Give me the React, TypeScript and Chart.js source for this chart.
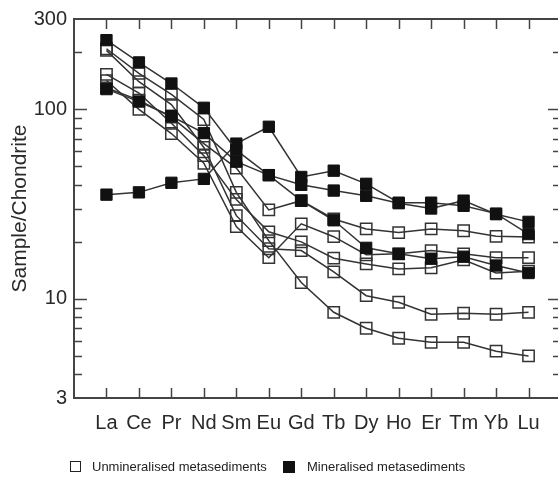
import React, { useEffect, useRef } from "react";
import { Chart, registerables } from "chart.js";

Chart.register(...registerables);

const elements = ["La", "Ce", "Pr", "Nd", "Sm", "Eu", "Gd", "Tb", "Dy", "Ho", "Er", "Tm", "Yb", "Lu"];

// Mineralised metasediments (filled squares)
const mineralisedA = [232, 177, 137, 102, 61, 45, 40, 37.3, 35, 32, 30, 33, 28, 25.5];
const mineralisedB = [128, 110, 92, 75, 53, 45, 33, 26, 18.6, 17.3, 16.3, 16.7, 15, 13.7];
const mineralisedC = [35.5, 36.5, 41, 43, 66, 81, 44, 47.5, 40.5, 32.2, 32.2, 31, 28.2, 22];

// Unmineralised metasediments (open squares)
const unmineralised1 = [130, 112, 91, 66, 49, 29.5, 33, 26.4, 23.4, 22.4, 23.4, 22.9, 21.4, 21.2];
const unmineralised2 = [142, 100, 74.6, 52, 24.1, 16.5, 24.9, 21.3, 17.1, 17.3, 18, 17.3, 16.5, 16.5];
const unmineralised3 = [153, 122, 84.5, 57, 33.5, 22.6, 20, 16.4, 15.3, 14.4, 14.6, 16.1, 13.7, 14];
const unmineralised4 = [205, 140, 106, 63, 27.5, 18.4, 18, 13.9, 10.4, 9.6, 8.3, 8.4, 8.3, 8.5];
const unmineralised5 = [209, 155, 120, 88.5, 36.5, 20.3, 12.2, 8.5, 7.0, 6.2, 5.9, 5.9, 5.3, 5.0];

const yTickLabels = [3, 10, 100, 300];
const yMajorTicks = [10, 100];
const yMinorTicks = [4, 5, 6, 7, 8, 9, 20, 30, 40, 50, 60, 70, 80, 90, 200];

const yTitle = "Sample/Chondrite";
const legendOpen = "Unmineralised metasediments";
const legendFilled = "Mineralised metasediments";

const AXIS = "#444";
const LINE = "#333";
const FONT = "'Liberation Sans', Arial, Helvetica, sans-serif";

const mineralisedSeries = [mineralisedA, mineralisedB, mineralisedC];
const unmineralisedSeries = [unmineralised1, unmineralised2, unmineralised3, unmineralised4, unmineralised5];

const toPoints = (vals: number[]) => vals.map((v, i) => ({ x: i + 1, y: v }));

const framePlugin = {
  id: "frame",
  beforeDatasetsDraw(chart: any) {
    const { ctx, chartArea, scales } = chart;
    const { left, right, top, bottom } = chartArea;
    const x = scales.x;
    const y = scales.y;
    ctx.save();
    ctx.strokeStyle = AXIS;
    ctx.lineWidth = 2;
    ctx.strokeRect(left, top, right - left, bottom - top);
    ctx.lineWidth = 1.5;
    ctx.beginPath();
    elements.forEach((_, i) => {
      const px = Math.round(x.getPixelForValue(i + 1)) + 0.5;
      ctx.moveTo(px, bottom);
      ctx.lineTo(px, bottom - 10);
      ctx.moveTo(px, top);
      ctx.lineTo(px, top + 10);
    });
    yMajorTicks.forEach((v) => {
      const py = Math.round(y.getPixelForValue(v)) + 0.5;
      ctx.moveTo(left, py);
      ctx.lineTo(left + 13, py);
      ctx.moveTo(right, py);
      ctx.lineTo(right - 13, py);
    });
    yMinorTicks.forEach((v) => {
      const py = Math.round(y.getPixelForValue(v)) + 0.5;
      ctx.moveTo(left, py);
      ctx.lineTo(left + 8, py);
      ctx.moveTo(right, py);
      ctx.lineTo(right - 8, py);
    });
    ctx.stroke();
    ctx.restore();
  },
};

export default function App() {
  const canvasRef = useRef<HTMLCanvasElement | null>(null);

  useEffect(() => {
    if (!canvasRef.current) return;
    const filledSets = mineralisedSeries.map((s, i) => ({
      label: `Mineralised ${i + 1}`,
      data: toPoints(s),
      borderColor: LINE,
      borderWidth: 1.5,
      pointStyle: "rect",
      pointRadius: 8,
      pointHoverRadius: 8,
      pointBackgroundColor: "#111",
      pointBorderColor: "#111",
      pointBorderWidth: 1,
      tension: 0,
      fill: false,
    }));
    const openSets = unmineralisedSeries.map((s, i) => ({
      label: `Unmineralised ${i + 1}`,
      data: toPoints(s),
      borderColor: LINE,
      borderWidth: 1.5,
      pointStyle: "rect",
      pointRadius: 8,
      pointHoverRadius: 8,
      pointBackgroundColor: "rgba(255,255,255,0)",
      pointBorderColor: "#333",
      pointBorderWidth: 1.5,
      tension: 0,
      fill: false,
    }));

    const chart = new Chart(canvasRef.current, {
      type: "line",
      data: { datasets: [...filledSets, ...openSets] as any },
      options: {
        responsive: false,
        animation: false,
        events: [],
        layout: { padding: { left: 0, top: 19, right: 19, bottom: 0 } },
        plugins: { legend: { display: false }, tooltip: { enabled: false } },
        scales: {
          x: {
            type: "linear",
            min: 0,
            max: elements.length + 1,
            grid: { display: false, drawTicks: false },
            border: { display: false },
            afterFit: (scale: any) => {
              scale.height = 82;
            },
            afterBuildTicks: (scale: any) => {
              scale.ticks = elements.map((_, i) => ({ value: i + 1 }));
            },
            ticks: {
              autoSkip: false,
              maxRotation: 0,
              minRotation: 0,
              padding: 13,
              color: "#2a2a2a",
              font: { family: FONT, size: 20 },
              callback: (v: any) => elements[Number(v) - 1] ?? "",
            },
          },
          y: {
            type: "logarithmic",
            min: 3,
            max: 300,
            grid: { display: false, drawTicks: false },
            border: { display: false },
            afterFit: (scale: any) => {
              scale.width = 74;
            },
            afterBuildTicks: (scale: any) => {
              scale.ticks = yTickLabels.map((v) => ({ value: v }));
            },
            ticks: {
              autoSkip: false,
              padding: 7,
              color: "#2a2a2a",
              font: { family: FONT, size: 20 },
              callback: (v: any) => String(v),
            },
            title: {
              display: true,
              text: yTitle,
              color: "#2a2a2a",
              font: { family: FONT, size: 21 },
              padding: { top: 8, bottom: 0 },
            },
          },
        },
      },
      plugins: [framePlugin],
    });
    return () => chart.destroy();
  }, []);

  const legendText: React.CSSProperties = {
    position: "absolute",
    top: 458,
    fontFamily: FONT,
    fontSize: 13,
    lineHeight: "18px",
    color: "#222",
    whiteSpace: "nowrap",
  };

  return (
    <div
      style={{
        position: "absolute",
        left: 0,
        top: 0,
        width: 558,
        height: 480,
        overflow: "hidden",
        background: "#fff",
      }}
    >
      <canvas ref={canvasRef} width={580} height={480} style={{ display: "block", width: 580, height: 480 }} />
      <div
        style={{
          position: "absolute",
          left: 70,
          top: 461,
          width: 9,
          height: 9,
          border: "1.5px solid #222",
          background: "#fff",
        }}
      />
      <div style={{ ...legendText, left: 92 }}>{legendOpen}</div>
      <div
        style={{
          position: "absolute",
          left: 283,
          top: 461,
          width: 12,
          height: 12,
          background: "#111",
        }}
      />
      <div style={{ ...legendText, left: 307 }}>{legendFilled}</div>
    </div>
  );
}
